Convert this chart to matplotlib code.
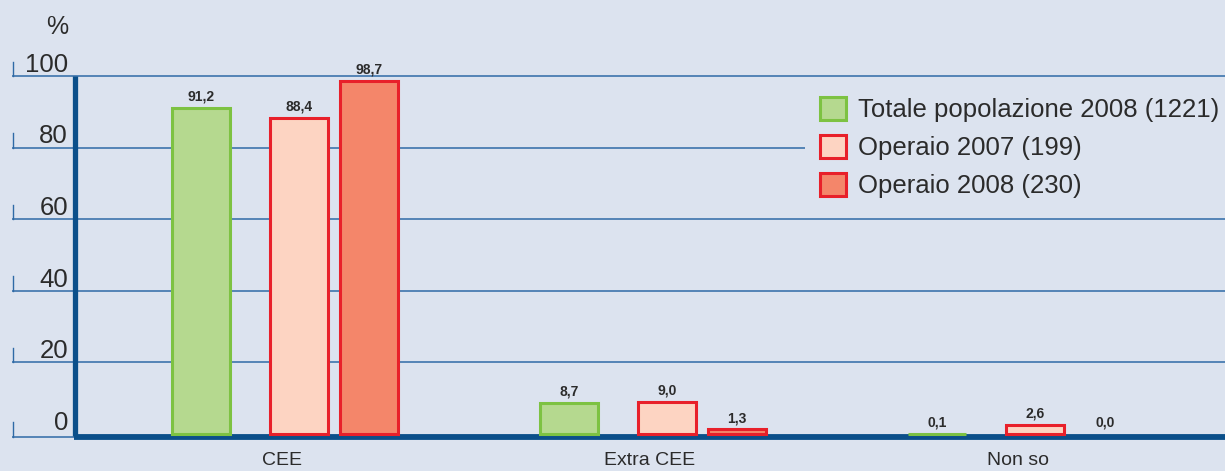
import numpy as np
import matplotlib.pyplot as plt
import matplotlib.transforms as mtransforms
from matplotlib.patches import Patch

plt.rcParams['font.family'] = ['Liberation Sans', 'DejaVu Sans']

# data
categories = ['CEE', 'Extra CEE', 'Non so']
series = ['Totale popolazione 2008 (1221)', 'Operaio 2007 (199)', 'Operaio 2008 (230)']
totale_2008 = [91.2, 8.7, 0.1]
operaio_2007 = [88.4, 9.0, 2.6]
operaio_2008 = [98.7, 1.3, 0.0]
yticks = [0, 20, 40, 60, 80, 100]

bg = '#dce3ef'
grid_col = '#2f6aa6'
spine_col = '#0b4f8a'
faces = ['#b5d98f', '#fdd4c2', '#f4866a']
edges = ['#7dc242', '#e8202a', '#e8202a']
offsets = [-0.22, 0.046, 0.236]
width = 0.158

W, H = 1225, 471
fig = plt.figure(figsize=(W / 100, H / 100), dpi=100, facecolor=bg)
ax = fig.add_axes([12 / W, (H - 434) / H, (W - 12) / W, 358 / H])
ax.set_facecolor(bg)
ax.set_xlim((12 - 282) / 368, (W - 282) / 368)
ax.set_ylim(0, 100)
ax.axis('off')

x = np.arange(len(categories))
trans = mtransforms.blended_transform_factory(ax.transAxes, ax.transData)
x_leg = (805 - 282) / 368

# grid lines (the 80 one stops at the legend), little ticks and labels
for v in yticks:
    xmax = x_leg if v == 80 else ax.get_xlim()[1]
    gy = v - 0.7 if v == 0 else v
    ax.hlines(gy, ax.get_xlim()[0], xmax, color=grid_col, lw=1.1, zorder=1, clip_on=False)
    ax.plot([0.0008, 0.0008], [gy, gy + 4], color=grid_col, lw=1, transform=trans, zorder=1,
            clip_on=False)
    ax.annotate(str(v), xy=(0.0462, v), xycoords=trans, xytext=(0, 3),
                textcoords='offset points', ha='right', va='baseline',
                fontsize=18.5, color='#2b2b2b')
ax.annotate('%', xy=(0.0462, 100), xycoords=trans, xytext=(0, 30),
            textcoords='offset points', ha='right', va='baseline',
            fontsize=18, color='#2b2b2b')

# axis lines
x0 = (75 - 282) / 368
ax.plot([x0, x0], [-0.6, 100], color=spine_col, lw=3.8, zorder=2, solid_capstyle='butt',
        clip_on=False)
ax.plot([x0 - 0.004, ax.get_xlim()[1]], [-0.75, -0.75], color=spine_col, lw=4.2, zorder=2,
        solid_capstyle='butt', clip_on=False)

# bars
for vals, off, fc, ec in zip([totale_2008, operaio_2007, operaio_2008], offsets, faces, edges):
    lws = [2.2 if v > 0 else 0 for v in vals]
    bars = ax.bar(x + off, vals, width, color=fc, edgecolor=ec, linewidth=lws, zorder=3,
                  clip_on=False)
    for b, v in zip(bars, vals):
        ax.annotate(f'{v:.1f}'.replace('.', ','), xy=(b.get_x() + b.get_width() / 2, v),
                    xytext=(0, 3), textcoords='offset points', ha='center', va='bottom',
                    fontsize=10, fontweight='bold', color='#2b2b2b')

# category labels
for xi, c in zip(x, categories):
    ax.annotate(c, xy=(xi, 0), xytext=(0, -19), textcoords='offset points',
                ha='center', va='center', fontsize=14, color='#2b2b2b')

handles = [Patch(facecolor=fc, edgecolor=ec, linewidth=2.2) for fc, ec in zip(faces, edges)]
leg = ax.legend(handles, series, loc='upper left', bbox_to_anchor=(807 / W, 1 - 84 / H),
                bbox_transform=fig.transFigure, borderaxespad=0, borderpad=0.5,
                fontsize=18.5, handlelength=1.0, handleheight=1.0, handletextpad=0.5,
                labelspacing=0.5, frameon=False)
for t in leg.get_texts():
    t.set_color('#2b2b2b')

fig.savefig('out.png', dpi=100, facecolor=bg)
